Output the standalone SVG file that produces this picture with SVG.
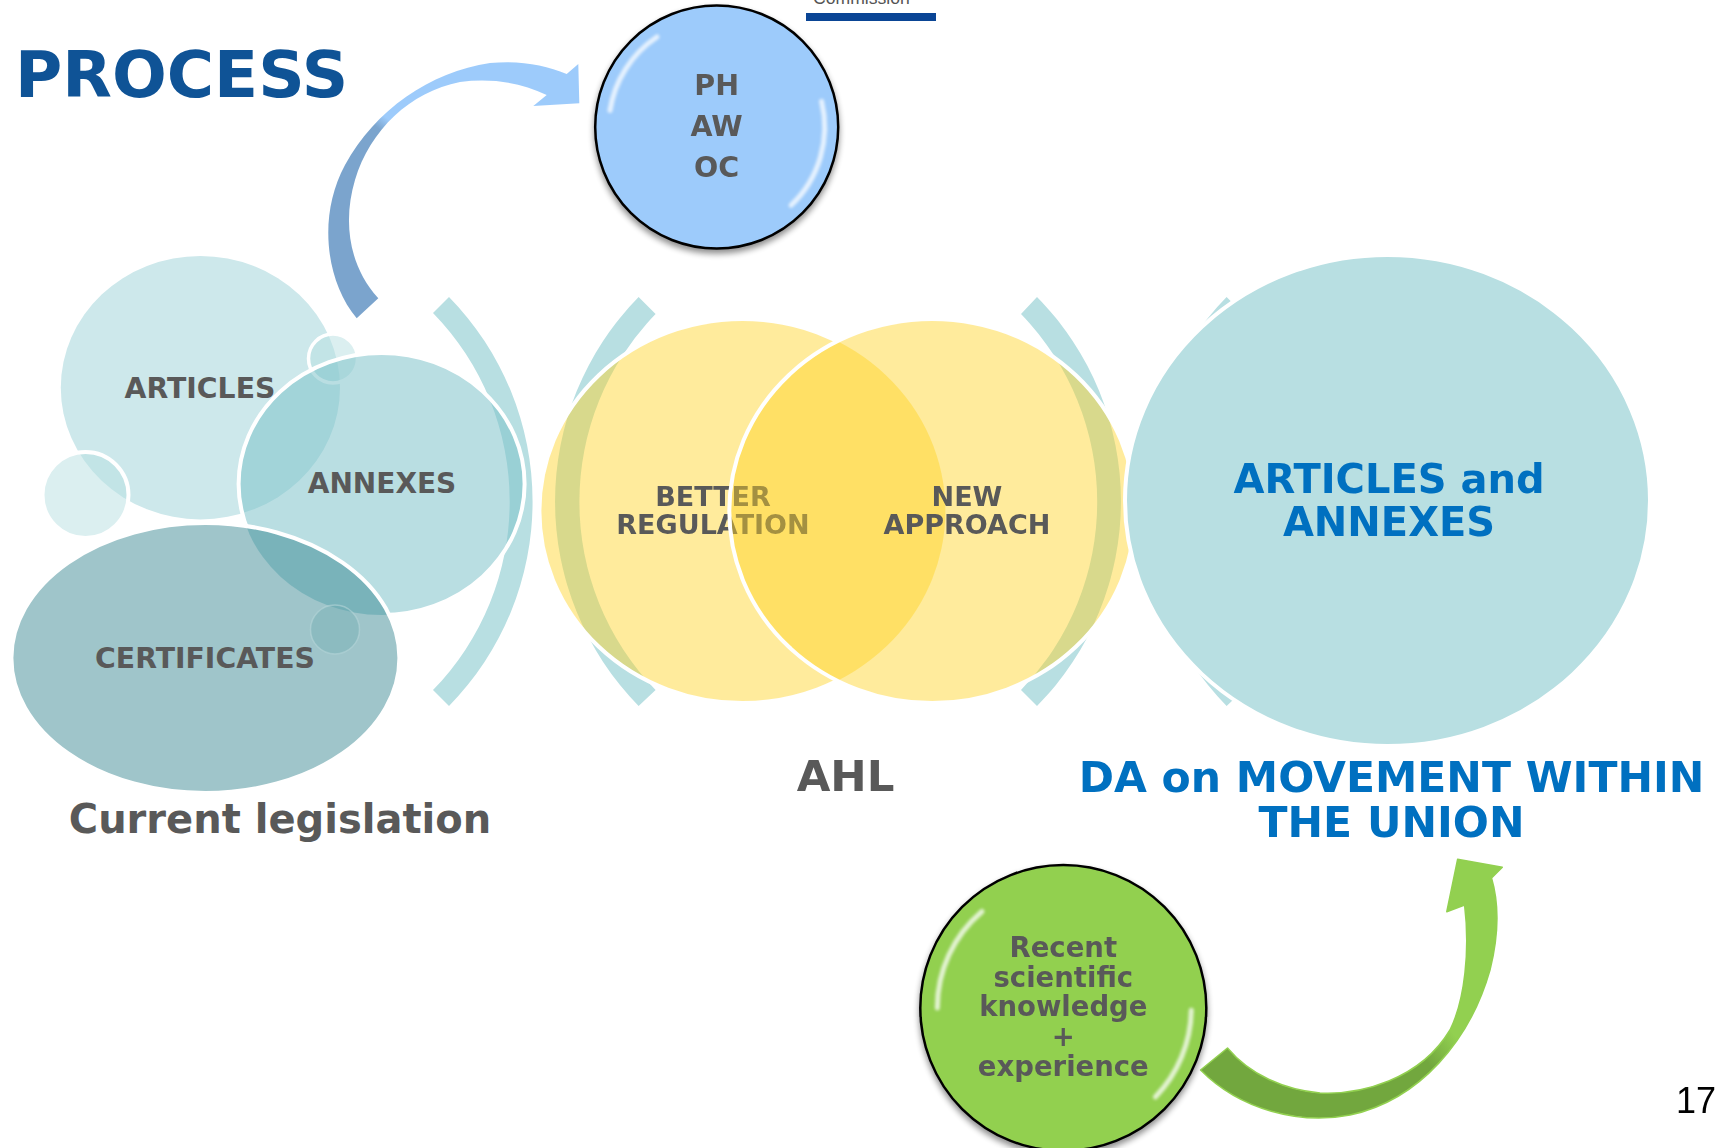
<svg xmlns="http://www.w3.org/2000/svg" width="1725" height="1148" viewBox="0 0 1725 1148">
<style>
.b{font-family:"DejaVu Sans",Verdana,sans-serif;font-weight:bold;text-anchor:middle}
.g{fill:#595959}
.bl{fill:#0070c0}
.ws{stroke:#fff;stroke-width:4}
.br{fill:#b8dfe2}
.hl{fill:none;stroke:#fff;stroke-width:5;stroke-linecap:round;opacity:0.75}
</style>
<defs>
<clipPath id="outRY"><path clip-rule="evenodd" d="M0 0H1725V1148H0Z M729.3,511 a203 192 0 1 0 406 0 a203 192 0 1 0 -406 0Z"/></clipPath>
<clipPath id="outCert"><path clip-rule="evenodd" d="M0 0H1725V1148H0Z M11.4,658 a194 135 0 1 0 388 0 a194 135 0 1 0 -388 0Z"/></clipPath>
<filter id="sh" x="-20%" y="-20%" width="140%" height="150%">
<feGaussianBlur in="SourceAlpha" stdDeviation="3"/>
<feOffset dy="4"/>
<feComponentTransfer><feFuncA type="linear" slope="0.45"/></feComponentTransfer>
<feMerge><feMergeNode/><feMergeNode in="SourceGraphic"/></feMerge>
</filter>
<filter id="hb" x="-20%" y="-20%" width="140%" height="140%"><feGaussianBlur stdDeviation="1.8"/></filter>
<linearGradient id="blueArr" gradientUnits="userSpaceOnUse" x1="360" y1="165" x2="415" y2="95">
<stop offset="0" stop-color="#7ba4cd"/><stop offset="0.45" stop-color="#7ba4cd"/><stop offset="0.6" stop-color="#9dcbfb"/><stop offset="1" stop-color="#9dcbfb"/>
</linearGradient>
<linearGradient id="greenArr" gradientUnits="userSpaceOnUse" x1="1300" y1="1110" x2="1480" y2="975">
<stop offset="0" stop-color="#72a73e"/><stop offset="0.58" stop-color="#72a73e"/><stop offset="0.75" stop-color="#92d050"/><stop offset="1" stop-color="#92d050"/>
</linearGradient>
</defs>
<rect width="1725" height="1148" fill="#fff"/>

<g id="header">
<text x="813" y="4" font-family="Liberation Sans,Arial,sans-serif" font-size="17.6" fill="#555">Commission</text>
<rect x="806" y="13" width="130" height="8" fill="#0a4595"/>
<text x="15" y="97" font-family="DejaVu Sans,Verdana,sans-serif" font-weight="bold" font-size="64.5" fill="#0f5396">PROCESS</text>
</g>

<g id="current-legislation">
<path class="br" d="M449,297 A292 292 0 0 1 449,706 L433,690 A270 270 0 0 0 433,313 Z"/>
<g id="node-articles">
<ellipse cx="200.4" cy="387.7" rx="139.6" ry="131.7" fill="#cde8eb"/>
<text class="b g" x="200" y="398" font-size="28.3">ARTICLES</text>
</g>
<circle cx="85.5" cy="495" r="43" fill="#b8dfe2" fill-opacity="0.5" class="ws"/>
<circle cx="333" cy="358.5" r="24.5" fill="#b8dfe2" fill-opacity="0.5" stroke="#fff" stroke-width="3.5"/>
<g id="node-annexes">
<ellipse cx="381.6" cy="484" rx="143" ry="131" fill="#7fc3ca" fill-opacity="0.55"/>
<ellipse cx="381.6" cy="484" rx="143" ry="131" fill="none" class="ws" clip-path="url(#outCert)"/>
<text class="b g" x="382" y="492.5" font-size="28">ANNEXES</text>
</g>
<g id="node-certificates">
<ellipse cx="205.4" cy="658" rx="194" ry="135" fill="#2e818c" fill-opacity="0.46" class="ws"/>
<circle cx="335" cy="629.5" r="24.5" fill="#6aa9b0" fill-opacity="0.35" stroke="#b5d6d9" stroke-width="1.5" stroke-opacity="0.6"/>
<text class="b g" x="205" y="668" font-size="28.3">CERTIFICATES</text>
</g>
<text class="b g" x="280" y="833" font-size="40">Current legislation</text>
</g>

<g id="connectors">
<path id="arrow-blue" fill="url(#blueArr)" d="M356.7,318.3 C325,280 318,215 345,165 C375,110 430,72 490,63 C520,60 545,65 566.7,74 L578.3,64 L579.3,103.3 L533.3,106 L546.7,95 C520,82 490,78 460,82 C410,92 370,130 355,180 C343,220 348,265 378.3,298.3 Z"/>
<path id="arrow-green" fill="url(#greenArr)" stroke="#92d050" stroke-width="1.5" stroke-linejoin="round" d="M1200.6,1070 C1240,1110 1300,1125 1350,1115 C1420,1100 1470,1040 1490,970 C1500,930 1498,900 1491.5,878 L1502.3,867.3 L1457.6,859.3 L1446.8,911.7 L1464.6,905 C1470,950 1465,1000 1450,1030 C1420,1080 1360,1095 1320,1093 C1285,1090 1250,1075 1227.5,1048 Z"/>
</g>

<g id="node-ph">
<circle cx="716.7" cy="127" r="121.5" fill="#9dcbfb" stroke="#000" stroke-width="2.5" filter="url(#sh)"/>
<g filter="url(#hb)">
<path class="hl" d="M656.9,37 A108 108 0 0 0 610,110.5"/>
<path class="hl" d="M821.6,101.4 A108 108 0 0 1 791.1,205.3"/>
</g>
<text class="b g" x="716.7" y="95" font-size="28.5">PH</text>
<text class="b g" x="716.7" y="136" font-size="28.5">AW</text>
<text class="b g" x="716.7" y="177" font-size="28.5">OC</text>
</g>

<g id="ahl">
<path class="br" d="M638.6,297 A292 292 0 0 0 638.6,706 L655.6,690 A270 270 0 0 1 655.6,314 Z"/>
<path class="br" d="M1037,297 A291 291 0 0 1 1037,706 L1021,690 A270 270 0 0 0 1021,314 Z"/>
<path class="br" d="M1226.6,297 A292 292 0 0 0 1226.6,706 L1243.6,690 A270 270 0 0 1 1243.6,314 Z"/>
<g id="node-better-regulation">
<ellipse cx="742.4" cy="511" rx="203" ry="192" fill="#ffd323" fill-opacity="0.45"/>
<ellipse cx="742.4" cy="511" rx="203" ry="192" fill="none" class="ws" clip-path="url(#outRY)"/>
<text class="b g" x="713" y="505.7" font-size="27">BETTER</text>
<text class="b g" x="713" y="534" font-size="27">REGULATION</text>
</g>
<g id="node-new-approach">
<ellipse cx="932.3" cy="511" rx="203" ry="192" fill="#ffd323" fill-opacity="0.45" class="ws"/>
<text class="b g" x="967" y="505.7" font-size="27">NEW</text>
<text class="b g" x="967" y="534" font-size="27">APPROACH</text>
</g>
<text class="b g" x="845.6" y="791" font-size="43.5">AHL</text>
</g>

<g id="node-articles-annexes">
<ellipse cx="1387.5" cy="500.5" rx="262.5" ry="245.5" fill="#b8dfe2" class="ws"/>
<text class="b bl" x="1389" y="492.5" font-size="40">ARTICLES and</text>
<text class="b bl" x="1389" y="536" font-size="40">ANNEXES</text>
<text class="b bl" x="1391.5" y="792" font-size="42.5">DA on MOVEMENT WITHIN</text>
<text class="b bl" x="1391.5" y="837" font-size="42.5">THE UNION</text>
</g>

<g id="node-knowledge">
<circle cx="1063.3" cy="1008" r="143" fill="#92d050" stroke="#000" stroke-width="2.5" filter="url(#sh)"/>
<g filter="url(#hb)">
<path class="hl" d="M982,911.5 A126 126 0 0 0 937.3,1008"/>
<path class="hl" d="M1191.3,1010.2 A128 128 0 0 1 1155.4,1096.9"/>
</g>
<text class="b g" x="1063.3" y="957" font-size="27.5">Recent</text>
<text class="b g" x="1063.3" y="987" font-size="27.5">scientific</text>
<text class="b g" x="1063.3" y="1016" font-size="27.5">knowledge</text>
<text class="b g" x="1063.3" y="1046" font-size="27.5">+</text>
<text class="b g" x="1063.3" y="1076" font-size="27.5">experience</text>
</g>

<text x="1676" y="1113" font-family="Liberation Sans,Arial,sans-serif" font-size="36" fill="#000">17</text>
</svg>
